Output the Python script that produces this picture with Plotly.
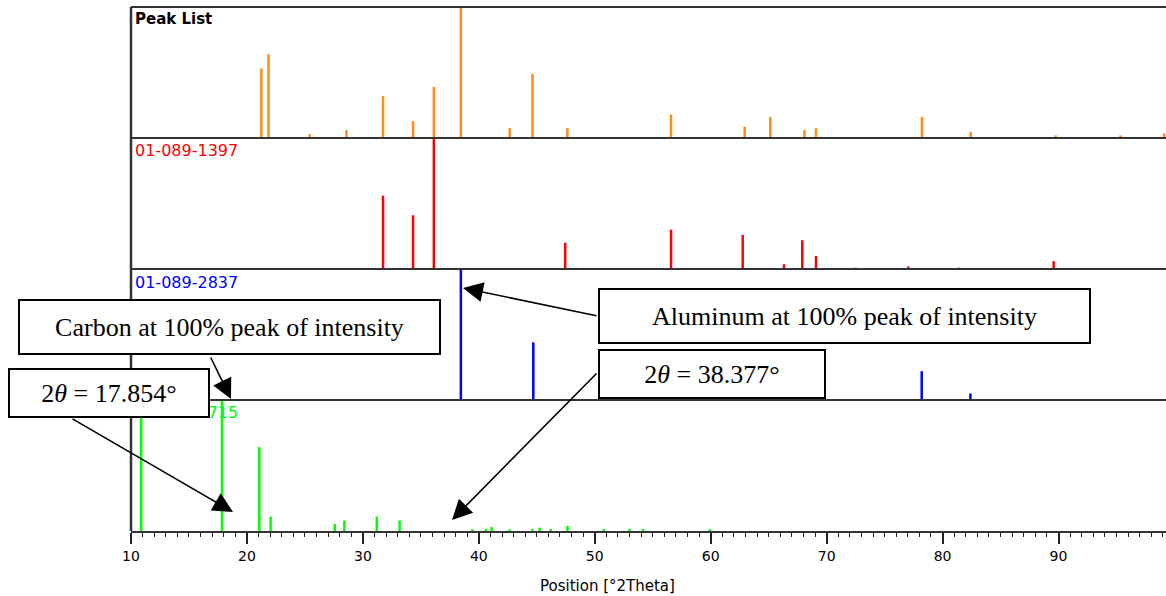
import plotly.graph_objects as go
from plotly.subplots import make_subplots

# ---------------- data ----------------
peak_list_pos = [21.25, 21.86, 25.42, 28.58, 31.74, 34.33, 36.12, 38.45, 42.67, 44.63, 47.64,
                 56.58, 62.93, 65.14, 68.08, 69.08, 78.22, 82.43, 89.75, 95.34, 99.1]
peak_list_int = [0.53, 0.64, 0.03, 0.06, 0.32, 0.13, 0.39, 1.00, 0.075, 0.49, 0.075,
                 0.18, 0.086, 0.16, 0.06, 0.074, 0.16, 0.046, 0.02, 0.02, 0.035]

ref1397_pos = [31.74, 34.33, 36.12, 47.45, 56.58, 62.76, 66.32, 67.90, 69.08, 72.49, 77.05, 81.40, 89.58]
ref1397_int = [0.56, 0.41, 1.00, 0.20, 0.30, 0.26, 0.036, 0.22, 0.10, 0.01, 0.02, 0.01, 0.06]

ref2837_pos = [38.45, 44.70, 65.10, 78.20, 82.40]
ref2837_int = [1.00, 0.44, 0.22, 0.22, 0.05]

ref0715_pos = [10.88, 17.85, 21.07, 22.04, 27.58, 28.40, 31.20, 33.17, 39.45, 40.60, 41.10,
               42.66, 44.62, 45.25, 46.20, 47.65, 50.78, 53.01, 54.18, 59.93]
ref0715_int = [0.90, 1.00, 0.64, 0.11, 0.053, 0.08, 0.11, 0.08, 0.015, 0.015, 0.03,
               0.012, 0.015, 0.025, 0.015, 0.04, 0.015, 0.015, 0.015, 0.015]

panel_labels = ["Peak List", "01-089-1397", "01-089-2837", "01-075-1715"]
panel_colors = ["#FF8C1A", "#FF0000", "#0000FF", "#00FF00"]
label_colors = ["#000000", "#FF0000", "#0000FF", "#00FF00"]

x_ticks = [10, 20, 30, 40, 50, 60, 70, 80, 90]
x_title = "Position [°2Theta]"

box_texts = ["Carbon at 100% peak of intensity", "2<i>θ</i> = 17.854°",
             "Aluminum at 100% peak of intensity", "2<i>θ</i> = 38.377°"]

series = [(peak_list_pos, peak_list_int), (ref1397_pos, ref1397_int),
          (ref2837_pos, ref2837_int), (ref0715_pos, ref0715_int)]

# ---------------- layout geometry ----------------
W, H = 1166, 596
ML, MR, MT, MB = 131, 0, 7, 65
PW, PH = W - ML - MR, H - MT - MB


def px(xp):
    return (xp - ML) / PW


def py(yp):
    return (H - MB - yp) / PH


fig = make_subplots(rows=4, cols=1, shared_xaxes=True, vertical_spacing=0)

for i, ((pos, inten), col) in enumerate(zip(series, panel_colors)):
    xs, ys = [], []
    for p, v in zip(pos, inten):
        xs += [p, p, None]
        ys += [0, v, None]
    fig.add_trace(go.Scatter(x=xs, y=ys, mode="lines", line=dict(color=col, width=2.5),
                             showlegend=False, hoverinfo="skip", cliponaxis=True),
                  row=i + 1, col=1)

for r in range(1, 5):
    fig.update_yaxes(range=[0, 1.0], showticklabels=False, ticks="", showgrid=False,
                     zeroline=False, showline=False, row=r, col=1)
    fig.update_xaxes(range=[10, 99.27], showgrid=False, zeroline=False, row=r, col=1)

for r in (1, 2, 3):
    fig.update_xaxes(showticklabels=False, ticks="", showline=False, row=r, col=1)
fig.update_xaxes(tickmode="array", tickvals=x_ticks, ticktext=[str(t) for t in x_ticks],
                 ticks="outside", ticklen=11, tickwidth=1.5, tickcolor="#222",
                 showline=True, linecolor="#333", linewidth=2,
                 minor=dict(dtick=1, tick0=10, ticks="outside", ticklen=4, tickwidth=1, tickcolor="#222"),
                 tickfont=dict(family="DejaVu Sans", size=14, color="#000"),
                 row=4, col=1)

shapes = []
for yb in [0.25, 0.5, 0.75, 1.0]:
    shapes.append(dict(type="line", xref="paper", yref="paper", x0=0, x1=1, y0=yb, y1=yb,
                       line=dict(color="#333", width=2), layer="above"))
shapes.append(dict(type="line", xref="paper", yref="paper", x0=0, x1=0, y0=0, y1=1,
                   line=dict(color="#333", width=2.5), layer="above"))

annotations = []
label_y = [8, 139, 271, 401]
for i, (lab, lc) in enumerate(zip(panel_labels, label_colors)):
    annotations.append(dict(xref="paper", yref="paper", x=px(133), y=py(label_y[i]),
                            xanchor="left", yanchor="top", text=lab, showarrow=False,
                            font=dict(family="DejaVu Sans", size=15 if i == 0 else 16, color=lc,
                                      weight="bold" if i == 0 else "normal")))

annotations.append(dict(xref="paper", yref="paper", x=px(607), y=py(586), text=x_title,
                        showarrow=False, xanchor="center", yanchor="middle",
                        font=dict(family="DejaVu Sans", size=15, color="#000")))

# arrows: (tip_x, tip_y, tail_x, tail_y) in pixels
arrows = [(231, 399, 210, 356), (233, 512, 71, 418), (463, 288, 598, 316), (452, 520, 598, 372)]
for tx, ty, sx, sy in arrows:
    annotations.append(dict(xref="paper", yref="paper", x=px(tx), y=py(ty), ax=sx - tx, ay=sy - ty,
                            axref="pixel", ayref="pixel", text="", showarrow=True,
                            arrowhead=2, arrowsize=2.5, arrowwidth=1.6, arrowcolor="#000"))

# boxes: (x0, y0, x1, y1) in pixels
boxes = [(18, 299, 441, 355), (8, 368, 210, 418), (598, 288, 1091, 344), (598, 349, 826, 399)]
for (x0, y0, x1, y1), txt in zip(boxes, box_texts):
    annotations.append(dict(xref="paper", yref="paper", x=px((x0 + x1) / 2), y=py((y0 + y1) / 2),
                            xanchor="center", yanchor="middle", text=txt, showarrow=False,
                            width=x1 - x0 - 4, height=y1 - y0 - 4, align="center", valign="middle",
                            bgcolor="#fff", bordercolor="#000", borderwidth=2, borderpad=0,
                            font=dict(family="Liberation Serif", size=26, color="#000")))

fig.update_layout(width=W, height=H, margin=dict(l=ML, r=MR, t=MT, b=MB),
                  plot_bgcolor="#fff", paper_bgcolor="#fff",
                  shapes=shapes, annotations=annotations, showlegend=False)

fig.write_html("out.html", config={"displayModeBar": False},
               post_script="document.body.style.margin='0px';")
